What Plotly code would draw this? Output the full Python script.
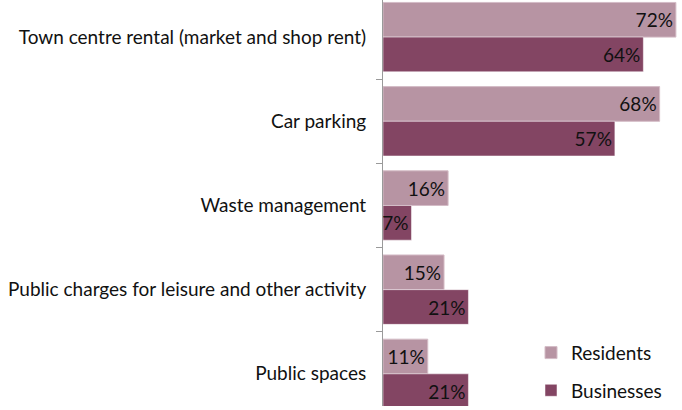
import plotly.graph_objects as go

categories = [
    "Town centre rental (market and shop rent)",
    "Car parking",
    "Waste management",
    "Public charges for leisure and other activity",
    "Public spaces",
]
residents = [72, 68, 16, 15, 11]
businesses = [64, 57, 7, 21, 21]

FONT = "Lato"
FS = 19

fig = go.Figure()
fig.add_trace(go.Bar(
    y=categories, x=residents, orientation="h", name="Residents",
    marker=dict(color="#B794A3", line=dict(color="#D4BCC6", width=1)),
    text=[f"{v}%" for v in residents], textposition="inside", textangle=0,
    constraintext="none",
    insidetextanchor="end", textfont=dict(color="#111111", size=FS, family=FONT),
    legendgroup="r",
))
fig.add_trace(go.Bar(
    y=categories, x=businesses, orientation="h", name="Businesses",
    marker=dict(color="#834563", line=dict(color="#FFFFFF", width=0.5)),
    text=[f"{v}%" for v in businesses], textposition="inside", textangle=0,
    constraintext="none",
    insidetextanchor="end", textfont=dict(color="#111111", size=FS, family=FONT),
    legendgroup="b",
))

fig.update_layout(
    width=682, height=410,
    margin=dict(l=383, r=0, t=0, b=0),
    paper_bgcolor="white", plot_bgcolor="white",
    barmode="group", bargap=0.176, bargroupgap=0,
    font=dict(family=FONT, size=FS, color="#111111"),
    showlegend=True,
    legend=dict(x=0.495, y=0.178, xanchor="left", yanchor="top",
                traceorder="grouped", tracegroupgap=10,
                font=dict(size=FS, family=FONT, color="#111111"),
                bgcolor="rgba(0,0,0,0)"),
    xaxis=dict(range=[0, 73.5], visible=False, fixedrange=True),
    yaxis=dict(
        categoryorder="array", categoryarray=categories,
        range=[4.382, -0.441],
        showline=True, linecolor="#9A9A9A", linewidth=1,
        ticks="outside", ticklen=6, tickcolor="#9A9A9A", tickson="boundaries",
        ticklabelstandoff=12,
        showgrid=False, zeroline=False,
    ),
)

fig.write_html(
    "out.html",
    config={"displayModeBar": False},
    post_script="document.body.style.margin='0px';document.body.style.overflow='hidden';",
)
